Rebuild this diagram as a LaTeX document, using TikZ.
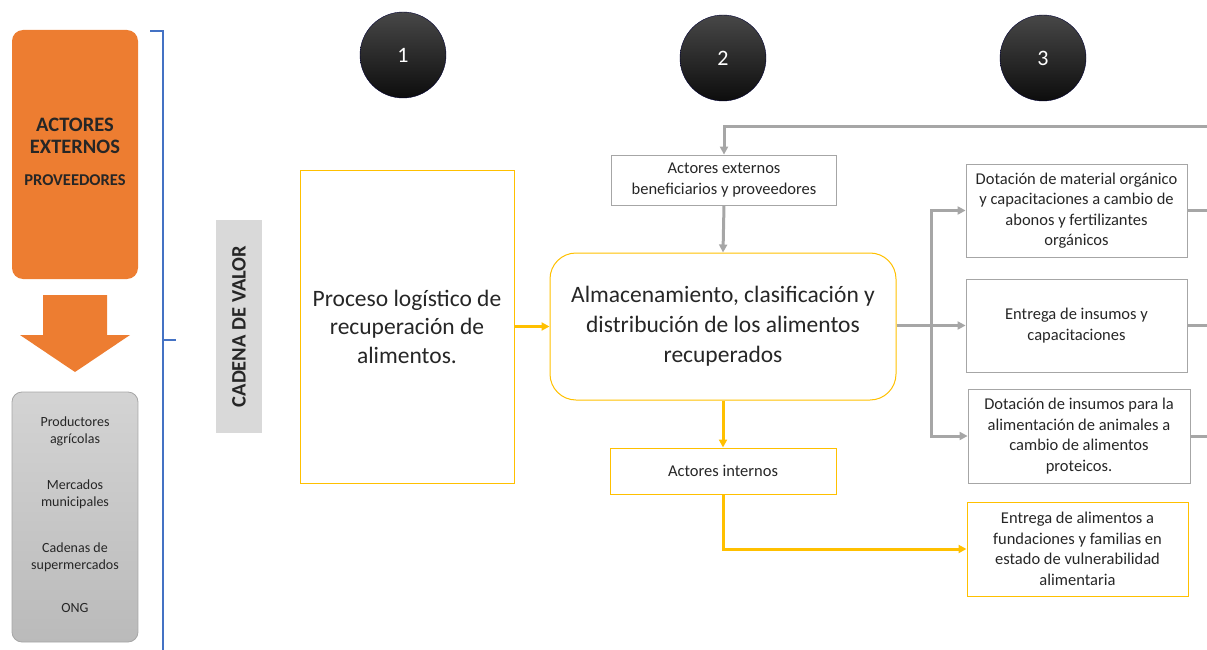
\documentclass[tikz,border=0pt]{standalone}
\usepackage{fontspec}
\setmainfont{Carlito}
\usetikzlibrary{arrows.meta,calc}
\definecolor{orng}{HTML}{ED7D31}
\definecolor{ylw}{HTML}{FFC000}
\definecolor{gry}{HTML}{A6A6A6}
\definecolor{blu}{HTML}{4472C4}
\definecolor{lgry}{HTML}{D9D9D9}
\definecolor{txt}{HTML}{262626}
\begin{document}
\begin{tikzpicture}[x=1pt,y=-1pt,
  gbox/.style={draw=gry, line width=0.8pt, inner sep=0pt, align=center, text=txt,
     font=\fontsize{16.5}{20.5}\selectfont},
  ybox/.style={draw=ylw, line width=1pt, inner sep=0pt, align=center, text=txt},
  gline/.style={draw=gry, line width=3pt},
  garr/.style={gline, -{Triangle[length=8pt,width=8pt]}},
  yline/.style={draw=ylw, line width=3pt},
  yarr/.style={yline, -{Triangle[length=8pt,width=8pt]}},
  num/.style={circle, minimum size=86pt, inner sep=0pt, top color=black!72, bottom color=black!95,
     draw=black!80!blue, line width=0.4pt, text=white, font=\fontsize{22}{24}\selectfont},
]
\useasboundingbox (0,0) rectangle (1207,650);

% left orange box
\node[fill=orng, rounded corners=11pt, minimum width=126pt, minimum height=249pt, inner sep=0pt]
  (orange) at (75,154.5) {};
\node[align=center, text=txt, inner sep=0pt, font=\fontsize{20.5}{22}\selectfont\bfseries]
  (orangetxt) at (75,136) {ACTORES\\EXTERNOS};
\node[text=txt, inner sep=0pt, font=\fontsize{16.5}{18}\selectfont\bfseries]
  (provtxt) at (75,180.5) {PROVEEDORES};

% orange down arrow
\fill[orng] (43,295) -- (107,295) -- (107,335) -- (130,335) -- (75,372) -- (20,335) -- (43,335) -- cycle;

% gray box
\node[draw=gry, line width=0.8pt, rounded corners=10pt, top color=black!17, bottom color=black!27,
  minimum width=126pt, minimum height=250pt, inner sep=0pt] (gray) at (75,517) {};
\node[align=center, text=txt, inner sep=0pt, font=\fontsize{14}{17}\selectfont] (graytxt) at (75,515)
  {Productores\\agrícolas\\[29pt]Mercados\\municipales\\[29pt]Cadenas de\\supermercados\\[26pt]ONG};

% blue bracket
\coordinate (b1) at (150,31);
\coordinate (b2) at (163,31);
\coordinate (b3) at (163,650);
\coordinate (b4) at (163,340);
\coordinate (b5) at (176,340);
\draw[blu, line width=2pt] (b1) -- (b2) -- (b3);
\draw[blu, line width=2pt] (b4) -- (b5);

% cadena de valor
\node[fill=lgry, rotate=90, minimum width=213pt, minimum height=46pt, inner sep=0pt, text=txt,
  font=\fontsize{20.5}{22}\selectfont\bfseries] (cadena) at (239,326.5) {CADENA DE VALOR};

% numbered circles
\node[num] (n1) at (403,55) {1};
\node[num] (n2) at (723,58) {2};
\node[num] (n3) at (1043,58) {3};

% process box
\node[ybox, minimum width=214pt, minimum height=313pt, font=\fontsize{23.5}{28.5}\selectfont]
  (proc) at (407,326.5) {Proceso logístico de\\recuperación de\\alimentos.};

% main rounded box
\node[ybox, rounded corners=26pt, minimum width=346pt, minimum height=147pt,
  font=\fontsize{23.5}{30}\selectfont] (main) at (723,326.5)
  {Almacenamiento, clasificación y\\distribución de los alimentos\\recuperados};

% external actors box
\node[gbox, minimum width=225pt, minimum height=50pt] (ext) at (724,180)
  {Actores externos\\beneficiarios y proveedores};

% internal actors box
\node[ybox, minimum width=226pt, minimum height=46pt, font=\fontsize{16.5}{20.5}\selectfont]
  (int) at (723,471) {Actores internos};

% right boxes
\node[gbox, minimum width=221pt, minimum height=93pt] (bA) at (1076.5,210.5)
  {Dotación de material orgánico\\y capacitaciones a cambio de\\abonos y fertilizantes\\orgánicos};
\node[gbox, minimum width=221pt, minimum height=93pt] (bB) at (1076.5,325.5)
  {Entrega de insumos y\\capacitaciones};
\node[gbox, minimum width=222pt, minimum height=94pt] (bC) at (1079,436)
  {Dotación de insumos para la\\alimentación de animales a\\cambio de alimentos\\proteicos.};
\node[ybox, minimum width=221pt, minimum height=94pt, font=\fontsize{16.5}{20.5}\selectfont]
  (bD) at (1077.5,549) {Entrega de alimentos a\\fundaciones y familias en\\estado de vulnerabilidad\\alimentaria};

% gray connectors
\coordinate (topr) at (1207,127);
\draw[garr] (topr) -| (ext.north);
\draw[garr] (ext.south) -- (main.north);
\coordinate (split) at (931,325.5);
\draw[gline] (main.east |- split) -- (split);
\draw[garr] (split) |- (bA.west);
\draw[garr] (split) -- (bB.west);
\draw[garr] (split) |- (bC.west);
\coordinate (rA) at (1207,210.5);
\coordinate (rB) at (1207,325.5);
\coordinate (rC) at (1207,436);
\draw[gline] (bA.east) -- (rA);
\draw[gline] (bB.east) -- (rB);
\draw[gline] (bC.east) -- (rC);

% yellow connectors
\draw[yarr] (proc.east) -- (main.west);
\draw[yarr] (main.south) -- (int.north);
\draw[yarr] (int.south) |- (bD.west);
\end{tikzpicture}
\end{document}
